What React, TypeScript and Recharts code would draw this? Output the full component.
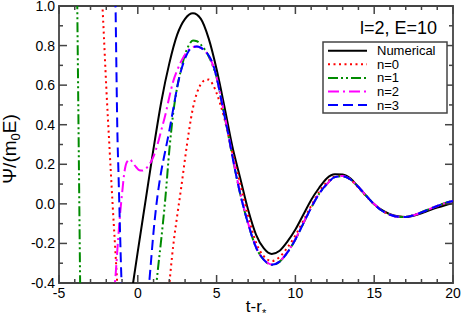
import { Label, Legend, Line, LineChart, ReferenceArea, XAxis, YAxis } from 'recharts'

const W = 463
const H = 318
const MARGIN = { top: 6, right: 10, bottom: 0, left: 0 }
const Y_AXIS_W = 59
const X_AXIS_H = 35
const PLOT_TOP = MARGIN.top
const PLOT_BOTTOM = H - MARGIN.bottom - X_AXIS_H
const PLOT_LEFT = MARGIN.left + Y_AXIS_W
const PLOT_RIGHT = W - MARGIN.right
const FONT = '"Liberation Sans", Arial, Helvetica, sans-serif'
const AXIS = '#444'

const X_TICKS = [-5, -4, -3, -2, -1, 0, 1, 2, 3, 4, 5, 6, 7, 8, 9, 10, 11, 12, 13, 14, 15, 16, 17, 18, 19, 20]
const Y_TICKS = [-0.4, -0.3, -0.2, -0.1, 0, 0.1, 0.2, 0.3, 0.4, 0.5, 0.6, 0.7, 0.8, 0.9, 1.0]

// shared time samples for the late ringdown part
const TAIL_T = [6.5, 7, 7.5, 8, 8.5, 9, 9.5, 10, 10.5, 11, 11.5, 12, 12.5, 13, 13.5, 14, 14.5, 15, 15.5, 16, 16.5, 17, 17.5, 18, 18.5, 19, 19.5, 20]

const NUM_T = [-0.45, 0, 0.5, 1, 1.5, 2, 2.5, 3, 3.5, 4, 4.5, 5, 5.5, 6, ...TAIL_T]
const NUM_V = [
  -0.48, -0.24, 0.02, 0.28, 0.52, 0.71, 0.855, 0.935, 0.963, 0.935, 0.835, 0.68, 0.49, 0.29,
  0.13, -0.03, -0.155, -0.225, -0.253, -0.237, -0.19, -0.13, -0.055, 0.02, 0.08, 0.13, 0.15, 0.148,
  0.128, 0.085, 0.04, -0.002, -0.032, -0.052, -0.063, -0.066, -0.06, -0.048, -0.033, -0.019, -0.007, 0.003,
]

const N0_T = [
  -2.32, -2.2, -2.0, -1.8, -1.6, -1.4, -1.28, 0,
  1.95, 2.25, 2.5, 2.75, 3, 3.25, 3.5, 3.75, 4, 4.25, 4.5, 4.75, 5, 5.25, 5.5, 5.75, 6, ...TAIL_T,
]
const N0_V = [
  1.12, 0.93, 0.59, 0.29, 0.0, -0.27, -0.44, null,
  -0.45, -0.21, -0.06, 0.08, 0.23, 0.37, 0.485, 0.56, 0.605, 0.625, 0.628, 0.605, 0.56, 0.5, 0.43, 0.345, 0.26,
  0.1, -0.06, -0.195, -0.265, -0.289, -0.268, -0.22, -0.16, -0.085, -0.01, 0.06, 0.11, 0.138, 0.142,
  0.122, 0.082, 0.037, -0.003, -0.034, -0.055, -0.065, -0.066, -0.058, -0.043, -0.027, -0.012, 0.002, 0.013,
]

const N1_T = [
  -3.86, -3.64, 0,
  1.12, 1.25, 1.5, 1.75, 2, 2.25, 2.5, 2.75, 3, 3.25, 3.5, 3.75, 4, 4.25, 4.5, 4.75, 5, 5.25, 5.5, 5.75, 6, ...TAIL_T,
]
const N1_V = [
  1.15, -0.55, null,
  -0.45, -0.35, -0.17, 0.03, 0.27, 0.46, 0.59, 0.68, 0.755, 0.803, 0.826, 0.822, 0.805, 0.78, 0.745, 0.7, 0.64, 0.545, 0.445, 0.345, 0.24,
  0.05, -0.1, -0.22, -0.283, -0.308, -0.292, -0.245, -0.18, -0.1, -0.02, 0.05, 0.1, 0.135, 0.14,
  0.123, 0.085, 0.04, -0.002, -0.035, -0.055, -0.065, -0.066, -0.057, -0.042, -0.026, -0.01, 0.005, 0.017,
]

const N2_T = [
  -1.52, -1.4, -1.25, -1.1, -1.0, -0.85, -0.7, -0.5, -0.3, -0.1, 0.1, 0.3, 0.5, 0.75,
  1, 1.25, 1.5, 1.75, 2, 2.25, 2.5, 2.75, 3, 3.25, 3.5, 3.75, 4, 4.25, 4.5, 4.75, 5, 5.25, 5.5, 5.75, 6, ...TAIL_T,
]
const N2_V = [
  -0.47, -0.35, -0.18, -0.03, 0.05, 0.16, 0.21, 0.225, 0.205, 0.185, 0.17, 0.168, 0.178, 0.2,
  0.24, 0.3, 0.375, 0.45, 0.54, 0.62, 0.675, 0.72, 0.755, 0.78, 0.793, 0.795, 0.788, 0.773, 0.748, 0.705, 0.64, 0.55, 0.45, 0.35, 0.245,
  0.055, -0.098, -0.218, -0.282, -0.306, -0.29, -0.243, -0.178, -0.098, -0.018, 0.052, 0.1, 0.135, 0.141,
  0.124, 0.086, 0.041, -0.001, -0.034, -0.055, -0.065, -0.066, -0.058, -0.043, -0.027, -0.011, 0.004, 0.015,
]

const N3_T = [
  -1.43, -1.36, -1.3, -1.22, -1.14, -1.06, -0.98, 0,
  0.66, 0.85, 1, 1.25, 1.5, 1.75, 2, 2.25, 2.5, 2.75, 3, 3.25, 3.5, 3.75, 4, 4.25, 4.5, 4.75, 5, 5.25, 5.5, 5.75, 6, ...TAIL_T,
]
const N3_V = [
  1.12, 0.7, 0.38, 0.14, -0.1, -0.33, -0.5, null,
  -0.46, -0.28, -0.14, 0.04, 0.17, 0.27, 0.37, 0.48, 0.59, 0.675, 0.735, 0.775, 0.793, 0.795, 0.789, 0.775, 0.75, 0.71, 0.64, 0.545, 0.445, 0.35, 0.24,
  0.05, -0.1, -0.22, -0.283, -0.308, -0.292, -0.245, -0.18, -0.1, -0.02, 0.05, 0.1, 0.135, 0.14,
  0.123, 0.085, 0.04, -0.002, -0.035, -0.055, -0.065, -0.066, -0.058, -0.043, -0.027, -0.011, 0.004, 0.015,
]

const toPoints = (t: number[], v: (number | null)[]) => t.map((x, i) => ({ t: x, v: v[i] }))

const SERIES = [
  { name: 'Numerical', color: '#000000', dash: undefined, data: toPoints(NUM_T, NUM_V) },
  { name: 'n=0', color: '#ff0000', dash: '2 3.5', data: toPoints(N0_T, N0_V) },
  { name: 'n=1', color: '#008b00', dash: '10 3 2 3 2 3', data: toPoints(N1_T, N1_V) },
  { name: 'n=2', color: '#ff00ff', dash: '11 4 2 4', data: toPoints(N2_T, N2_V) },
  { name: 'n=3', color: '#0000ff', dash: '10 5', data: toPoints(N3_T, N3_V) },
]

function XTick({ x, payload }: any) {
  const v = payload.value
  const major = v % 5 === 0
  const len = major ? 8 : 4
  return (
    <g>
      <line x1={x} x2={x} y1={PLOT_BOTTOM} y2={PLOT_BOTTOM - len} stroke={AXIS} strokeWidth={1.5} />
      <line x1={x} x2={x} y1={PLOT_TOP} y2={PLOT_TOP + len} stroke={AXIS} strokeWidth={1.5} />
      {major && (
        <text x={x} y={PLOT_BOTTOM + 15} textAnchor="middle" fontSize={14} fontFamily={FONT} fill="#000">
          {v}
        </text>
      )}
    </g>
  )
}

function YTick({ y, payload }: any) {
  const v = payload.value
  const major = Math.round(v * 10) % 2 === 0
  const len = major ? 8 : 4
  return (
    <g>
      <line x1={PLOT_LEFT} x2={PLOT_LEFT + len} y1={y} y2={y} stroke={AXIS} strokeWidth={1.5} />
      <line x1={PLOT_RIGHT} x2={PLOT_RIGHT - len} y1={y} y2={y} stroke={AXIS} strokeWidth={1.5} />
      {major && (
        <text x={PLOT_LEFT - 4} y={y + 5} textAnchor="end" fontSize={14} fontFamily={FONT} fill="#000">
          {v.toFixed(1)}
        </text>
      )}
    </g>
  )
}

function LegendBox() {
  return (
    <svg width={160} height={110} style={{ display: 'block', overflow: 'visible' }}>
      <text x={137} y={24} textAnchor="end" fontSize={18} fontFamily={FONT} fill="#000">
        l=2, E=10
      </text>
      <rect x={23} y={32} width={124} height={71} fill="#fff" stroke={AXIS} strokeWidth={1.5} />
      {SERIES.map((s, i) => {
        const cy = 40.7 + i * 13.6
        return (
          <g key={s.name}>
            <line x1={28} x2={67} y1={cy} y2={cy} stroke={s.color} strokeWidth={2} strokeDasharray={s.dash} />
            <text x={77} y={cy + 4.5} fontSize={13} fontFamily={FONT} fill="#000">
              {s.name}
            </text>
          </g>
        )
      })}
    </svg>
  )
}

export default function App() {
  return (
    <div style={{ position: 'absolute', left: 0, top: 0, width: W, height: H, background: '#fff' }}>
      <LineChart width={W} height={H} margin={MARGIN}>
        <XAxis
          type="number"
          dataKey="t"
          domain={[-5, 20]}
          ticks={X_TICKS}
          interval={0}
          allowDataOverflow
          height={X_AXIS_H}
          axisLine={false}
          tickLine={false}
          tick={<XTick />}
        >
          <Label
            content={() => (
              <text x={(PLOT_LEFT + PLOT_RIGHT) / 2} y={312} textAnchor="middle" fontSize={17} fontFamily={FONT} fill="#000">
                t-r
                <tspan dy={5} fontSize={11}>*</tspan>
              </text>
            )}
          />
        </XAxis>
        <YAxis
          type="number"
          domain={[-0.4, 1]}
          ticks={Y_TICKS}
          interval={0}
          allowDataOverflow
          width={Y_AXIS_W}
          axisLine={false}
          tickLine={false}
          tick={<YTick />}
        >
          <Label
            content={() => (
              <text transform="rotate(-90)" x={-149} y={16} textAnchor="middle" fontSize={19} fontFamily={FONT} fill="#000">
                Ψ/(m
                <tspan dy={4} fontSize={13}>0</tspan>
                <tspan dy={-4}>E)</tspan>
              </text>
            )}
          />
        </YAxis>
        {SERIES.map((s) => (
          <Line
            key={s.name}
            name={s.name}
            data={s.data}
            dataKey="v"
            type="monotone"
            stroke={s.color}
            strokeWidth={2}
            strokeDasharray={s.dash}
            dot={false}
            activeDot={false}
            connectNulls={false}
            isAnimationActive={false}
          />
        ))}
        <ReferenceArea x1={-5} x2={20} y1={-0.4} y2={1} fill="none" stroke={AXIS} strokeWidth={1.8} />
        <Legend
          content={<LegendBox />}
          layout="vertical"
          align="center"
          verticalAlign="middle"
          wrapperStyle={{ position: 'absolute', left: 300, top: 10, width: 160, height: 110 }}
        />
      </LineChart>
    </div>
  )
}
